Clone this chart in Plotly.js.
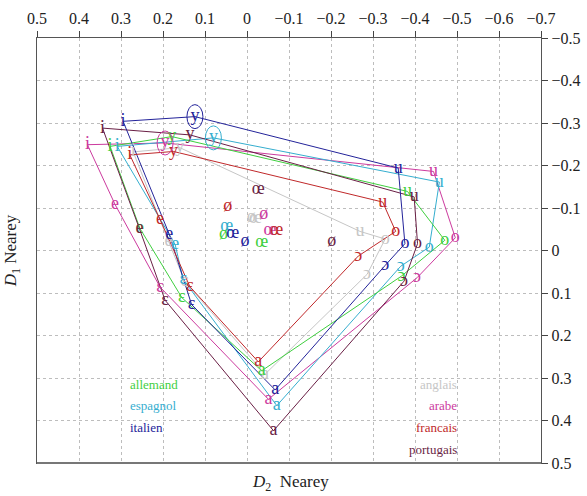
<!DOCTYPE html>
<html>
<head>
<meta charset="utf-8">
<script src="https://cdn.plot.ly/plotly-3.0.1.min.js"></script>
<style>html,body{margin:0;padding:0;background:#fff;}#chart{width:587px;height:496px;}</style>
</head>
<body>
<div id="chart"></div>
<script>
// Polygon vowel order (closed back to i)
const polygonVowels = ['i', 'y', 'u', 'o', 'ɔ', 'a', 'ɛ', 'e'];

// Languages, colours
const languages = ['allemand', 'espagnol', 'italien', 'anglais', 'arabe', 'francais', 'portugais'];
const colors = ['#3fcf3f', '#35aecf', '#23239a', '#c6c6c6', '#cc3a9e', '#c0282a', '#6a1f45'];

// D2 (x) and D1 (y) values, in polygonVowels order
const allemandD2  = [0.326, 0.179, -0.382, -0.471, -0.368, -0.035, 0.155, 0.255];
const allemandD1  = [-0.245, -0.268, -0.139, -0.024, 0.060, 0.283, 0.111, -0.052];
const espagnolD2  = [0.309, 0.080, -0.458, -0.434, -0.366, -0.071, 0.152, 0.171];
const espagnolD1  = [-0.245, -0.265, -0.161, -0.008, 0.037, 0.365, 0.068, -0.014];
const italienD2   = [0.295, 0.124, -0.360, -0.376, -0.329, -0.067, 0.132, 0.185];
const italienD1   = [-0.304, -0.315, -0.194, -0.016, 0.035, 0.328, 0.127, -0.038];
const anglaisD2   = [0.271, 0.160, -0.269, -0.329, -0.286, -0.043, 0.148, 0.187];
const anglaisD1   = [-0.232, -0.242, -0.045, -0.027, 0.056, 0.291, 0.073, -0.022];
const arabeD2     = [0.380, 0.195, -0.444, -0.496, -0.405, -0.051, 0.207, 0.314];
const arabeD1     = [-0.249, -0.253, -0.186, -0.030, 0.064, 0.350, 0.086, -0.108];
const francaisD2  = [0.279, 0.175, -0.323, -0.354, -0.265, -0.027, 0.136, 0.207];
const francaisD1  = [-0.225, -0.233, -0.114, -0.045, 0.013, 0.262, 0.085, -0.073];
const portugaisD2 = [0.344, 0.136, -0.398, -0.406, -0.374, -0.063, 0.195, 0.256];
const portugaisD1 = [-0.288, -0.272, -0.126, -0.016, 0.072, 0.424, 0.117, -0.051];

// Front rounded vowels (not on polygon): ø, œ
const roundedVowels = ['ø', 'œ'];
const allemandRoundD2  = [0.056, -0.035];
const allemandRoundD1  = [-0.038, -0.020];
const espagnolRoundD2  = [null, 0.048];
const espagnolRoundD1  = [null, -0.057];
const italienRoundD2   = [0.005, 0.034];
const italienRoundD1   = [-0.022, -0.040];
const anglaisRoundD2   = [-0.010, -0.020];
const anglaisRoundD1   = [-0.077, -0.076];
const arabeRoundD2     = [-0.040, -0.055];
const arabeRoundD1     = [-0.085, -0.047];
const francaisRoundD2  = [0.046, -0.071];
const francaisRoundD1  = [-0.103, -0.047];
const portugaisRoundD2 = [-0.202, -0.027];
const portugaisRoundD1 = [-0.022, -0.143];

// Languages whose /y/ is circled
const circledY = ['italien', 'espagnol', 'arabe'];

// x tick values / y tick values
const xTicks = [0.5, 0.4, 0.3, 0.2, 0.1, 0, -0.1, -0.2, -0.3, -0.4, -0.5, -0.6, -0.7];
const yTicks = [-0.5, -0.4, -0.3, -0.2, -0.1, 0, 0.1, 0.2, 0.3, 0.4, 0.5];

const poly = {
  allemand: [allemandD2, allemandD1, allemandRoundD2, allemandRoundD1],
  espagnol: [espagnolD2, espagnolD1, espagnolRoundD2, espagnolRoundD1],
  italien: [italienD2, italienD1, italienRoundD2, italienRoundD1],
  anglais: [anglaisD2, anglaisD1, anglaisRoundD2, anglaisRoundD1],
  arabe: [arabeD2, arabeD1, arabeRoundD2, arabeRoundD1],
  francais: [francaisD2, francaisD1, francaisRoundD2, francaisRoundD1],
  portugais: [portugaisD2, portugaisD1, portugaisRoundD2, portugaisRoundD1]
};

const FONT = 'Liberation Serif, Times New Roman, serif';
const lineTraces = [], textTraces = [], shapes = [];
const drawOrder = ['anglais', 'arabe', 'espagnol', 'allemand', 'portugais', 'italien', 'francais'];
drawOrder.forEach(lang => {
  const k = languages.indexOf(lang);
  const [px, py, rx, ry] = poly[lang];
  lineTraces.push({
    x: px.concat([px[0]]), y: py.concat([py[0]]),
    mode: 'lines', type: 'scatter', hoverinfo: 'skip',
    line: {color: colors[k], width: 1}, showlegend: false
  });
  const tx = [], ty = [], tt = [];
  px.forEach((v, i) => { tx.push(v); ty.push(py[i]); tt.push(polygonVowels[i]); });
  rx.forEach((v, i) => { if (v !== null) { tx.push(v); ty.push(ry[i]); tt.push(roundedVowels[i]); } });
  textTraces.push({
    x: tx, y: ty, text: tt, mode: 'text', type: 'scatter',
    textposition: 'middle center',
    textfont: {family: FONT, size: 18, color: colors[k]}, showlegend: false
  });
  if (circledY.includes(lang)) {
    const yi = polygonVowels.indexOf('y');
    shapes.push({
      type: 'circle', xref: 'x', yref: 'y',
      xsizemode: 'pixel', ysizemode: 'pixel',
      xanchor: px[yi], yanchor: py[yi],
      x0: -8, x1: 8, y0: -12, y1: 12,
      line: {color: colors[k], width: 1}
    });
  }
});

// thicker grey bottom frame
shapes.push({type: 'line', xref: 'paper', yref: 'paper', x0: 0, x1: 1, y0: 0, y1: 0,
  line: {color: '#777', width: 2}});

const annotations = [];
const leftGroup = ['allemand', 'espagnol', 'italien'];
const rightGroup = ['anglais', 'arabe', 'francais', 'portugais'];
const rowY = [0.162, 0.112, 0.061, 0.010];
leftGroup.forEach((l, i) => annotations.push({
  xref: 'paper', yref: 'paper', x: 0.181, y: rowY[i], text: l, showarrow: false,
  font: {family: FONT, size: 13, color: colors[languages.indexOf(l)]}
}));
rightGroup.forEach((l, i) => annotations.push({
  xref: 'paper', yref: 'paper', x: 0.837, y: rowY[i], text: l, showarrow: false,
  font: {family: FONT, size: 13, color: colors[languages.indexOf(l)]}
}));
annotations.push({
  xref: 'paper', yref: 'paper', x: 0.502, y: -0.047, yanchor: 'middle',
  text: '<i>D</i><sub>2</sub>  Nearey', showarrow: false,
  font: {family: FONT, size: 17, color: '#222'}
});
annotations.push({
  xref: 'paper', yref: 'paper', x: -0.05, y: 0.5, xanchor: 'center', yanchor: 'middle',
  textangle: -90, text: '<i>D</i><sub>1</sub> Nearey', showarrow: false,
  font: {family: FONT, size: 17, color: '#222'}
});

const layout = {
  width: 587, height: 496,
  margin: {l: 37, r: 46, t: 38, b: 33},
  paper_bgcolor: '#fff', plot_bgcolor: '#fff',
  showlegend: false,
  font: {family: FONT, size: 16, color: '#222'},
  xaxis: {
    range: [0.5, -0.7], side: 'top', tickvals: xTicks,
    ticks: 'outside', ticklen: 6, tickcolor: '#444',
    showline: true, mirror: true, linecolor: '#555', linewidth: 1.2,
    showgrid: true, gridcolor: '#bdbdbd', griddash: 'dot', gridwidth: 1,
    zeroline: false, tickfont: {family: FONT, size: 16, color: '#222'}
  },
  yaxis: {
    range: [0.5, -0.5], side: 'right', tickvals: yTicks,
    ticks: 'outside', ticklen: 6, tickcolor: '#444',
    showline: true, mirror: true, linecolor: '#555', linewidth: 1.2,
    showgrid: true, gridcolor: '#bdbdbd', griddash: 'dot', gridwidth: 1,
    zeroline: false, tickfont: {family: FONT, size: 16, color: '#222'}
  },
  shapes: shapes,
  annotations: annotations
};

Plotly.newPlot('chart', lineTraces.concat(textTraces), layout, {displayModeBar: false, staticPlot: true});
</script>
</body>
</html>
